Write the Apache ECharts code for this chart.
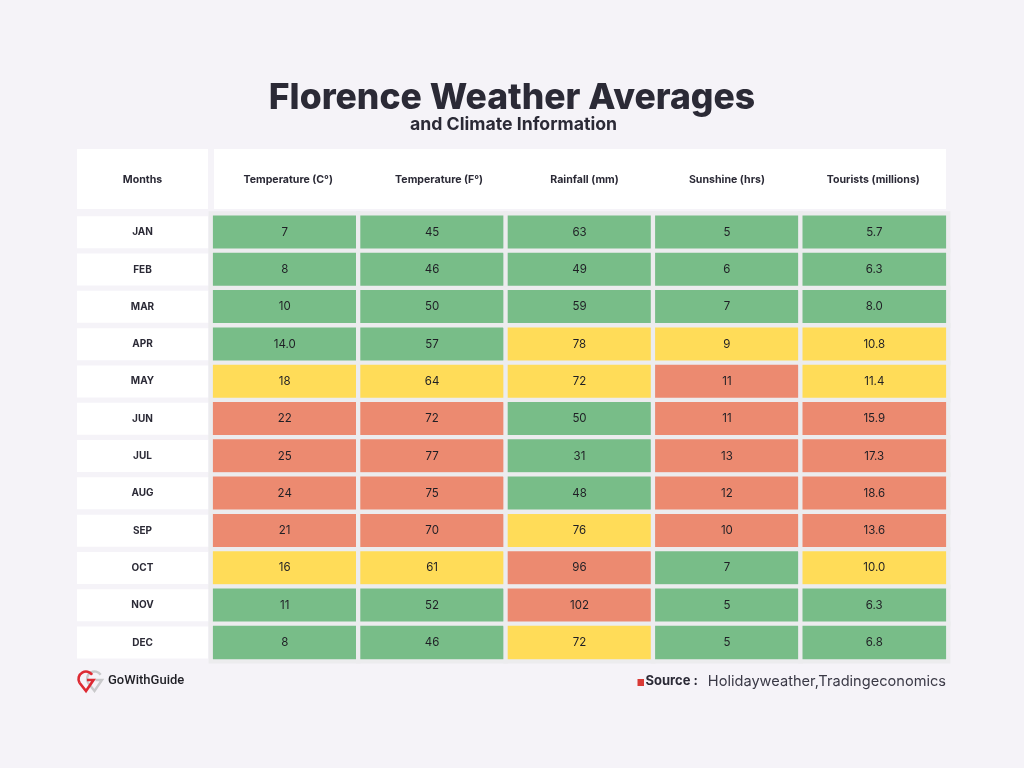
<!DOCTYPE html>
<html><head><meta charset="utf-8">
<style>html,body{margin:0;padding:0;background:#f5f3f8}#c{width:1024px;height:768px}</style>
<script src="https://cdn.jsdelivr.net/npm/echarts@6/dist/echarts.min.js"></script>
</head><body><div id="c"></div>
<script>
const months = ['JAN','FEB','MAR','APR','MAY','JUN','JUL','AUG','SEP','OCT','NOV','DEC'];
const columns = ['Temperature (C°)','Temperature (F°)','Rainfall (mm)','Sunshine (hrs)','Tourists (millions)'];
const tempC = ['7','8','10','14.0','18','22','25','24','21','16','11','8'];
const tempF = ['45','46','50','57','64','72','77','75','70','61','52','46'];
const rainfall = ['63','49','59','78','72','50','31','48','76','96','102','72'];
const sunshine = ['5','6','7','9','11','11','13','12','10','7','5','5'];
const tourists = ['5.7','6.3','8.0','10.8','11.4','15.9','17.3','18.6','13.6','10.0','6.3','6.8'];
const tempCLevel = ['g','g','g','g','y','r','r','r','r','y','g','g'];
const tempFLevel = ['g','g','g','g','y','r','r','r','r','y','g','g'];
const rainLevel = ['g','g','g','y','y','g','g','g','y','r','r','y'];
const sunLevel = ['g','g','g','y','r','r','r','r','r','g','g','g'];
const touristLevel = ['g','g','g','y','y','r','r','r','r','y','g','g'];
const levelColors = {g:'#78bd88', y:'#ffdc58', r:'#ec8a70'};

const valueCols = [tempC,tempF,rainfall,sunshine,tourists];
const levelCols = [tempCLevel,tempFLevel,rainLevel,sunLevel,touristLevel];
const cells = [];
valueCols.forEach((col,c)=>col.forEach((s,r)=>{
  cells.push({value:[c,r,Number(s)],text:s,itemStyle:{color:levelColors[levelCols[c][r]]}});
}));
const ink='#2b2a36', font='Inter';
const rad=Math.PI/180;
const headerPadding=[[0,0,0,7],[0,0,0,14],[0,0,0,10],[0,0,0,0],[0,2,0,0]];
function pin(dx,color,w,z){
  const cx=86+dx, cy=679;
  return [
    {type:'arc',z:z,shape:{cx:cx,cy:cy,r:7.5,startAngle:150*rad,endAngle:325*rad,clockwise:true},
      style:{fill:'none',stroke:color,lineWidth:w}},
    {type:'polyline',z:z,shape:{points:[[cx-6.5,cy+3.75],[cx,cy+12],[cx+7.5,cy+1],[cx+1,cy+1]]},
      style:{fill:'none',stroke:color,lineWidth:w}}
  ];
}
const chart = echarts.init(document.getElementById('c'),null,{renderer:'canvas'});
chart.setOption({
  animation:false,
  backgroundColor:'#f5f3f8',
  title:[
    {text:'Florence Weather Averages',left:507,top:75,textAlign:'center',
     textStyle:{fontFamily:font,fontWeight:800,fontSize:35.5,color:ink}},
    {text:'and Climate Information',left:508.5,top:110.5,textAlign:'center',
     textStyle:{fontFamily:font,fontWeight:700,fontSize:17.7,color:ink}}
  ],
  grid:{left:211,right:76,top:213.6,height:447.6},
  xAxis:{type:'category',position:'top',
    data:columns.map((c,i)=>({value:c,textStyle:{padding:headerPadding[i]}})),
    axisLine:{show:false},axisTick:{show:false},splitLine:{show:false},
    axisLabel:{margin:28.6,fontFamily:font,fontWeight:700,fontSize:10.6,color:ink,interval:0}},
  yAxis:{type:'category',inverse:true,data:months,
    axisLine:{show:false},axisTick:{show:false},splitLine:{show:false},
    axisLabel:{margin:3,interval:0,align:'right',formatter:'{m|{value}}',
      rich:{m:{fontFamily:font,fontWeight:700,fontSize:10,color:ink,
        width:131,height:32,lineHeight:32,align:'center',backgroundColor:'#ffffff'}}}},
  series:[{type:'heatmap',data:cells,
    itemStyle:{borderColor:'#ececee',borderWidth:4.3},
    label:{show:true,formatter:p=>p.data.text,fontFamily:font,fontWeight:400,fontSize:11.5,color:'#1f1f25'}}],
  graphic:[
    {type:'rect',z:0,shape:{x:77,y:149,width:131,height:60},style:{fill:'#fff'}},
    {type:'rect',z:0,shape:{x:214,y:149,width:732,height:60},style:{fill:'#fff'}},
    {type:'text',z:5,x:142.5,y:180,style:{text:'Months',align:'center',verticalAlign:'middle',
      font:'700 10.6px '+font,fill:ink}},
    ...pin(8.5,'#c9c9cb',2.4,5),
    ...pin(0,'#dd2a33',2.6,6),
    {type:'text',z:5,x:108,y:681,style:{text:'GoWithGuide',verticalAlign:'middle',
      font:'500 13px Roboto',fill:'#1f1f25'}},
    {type:'rect',z:5,shape:{x:637.5,y:679,width:6.5,height:7},style:{fill:'#d93a36'}},
    {type:'text',z:5,x:645.5,y:681.5,style:{text:'Source :',verticalAlign:'middle',
      font:'700 13px '+font,fill:ink}},
    {type:'text',z:5,x:946,y:681.5,style:{text:'Holidayweather,Tradingeconomics',align:'right',verticalAlign:'middle',
      font:'400 14.6px '+font,fill:'#3a3946'}}
  ]
});
</script></body></html>
